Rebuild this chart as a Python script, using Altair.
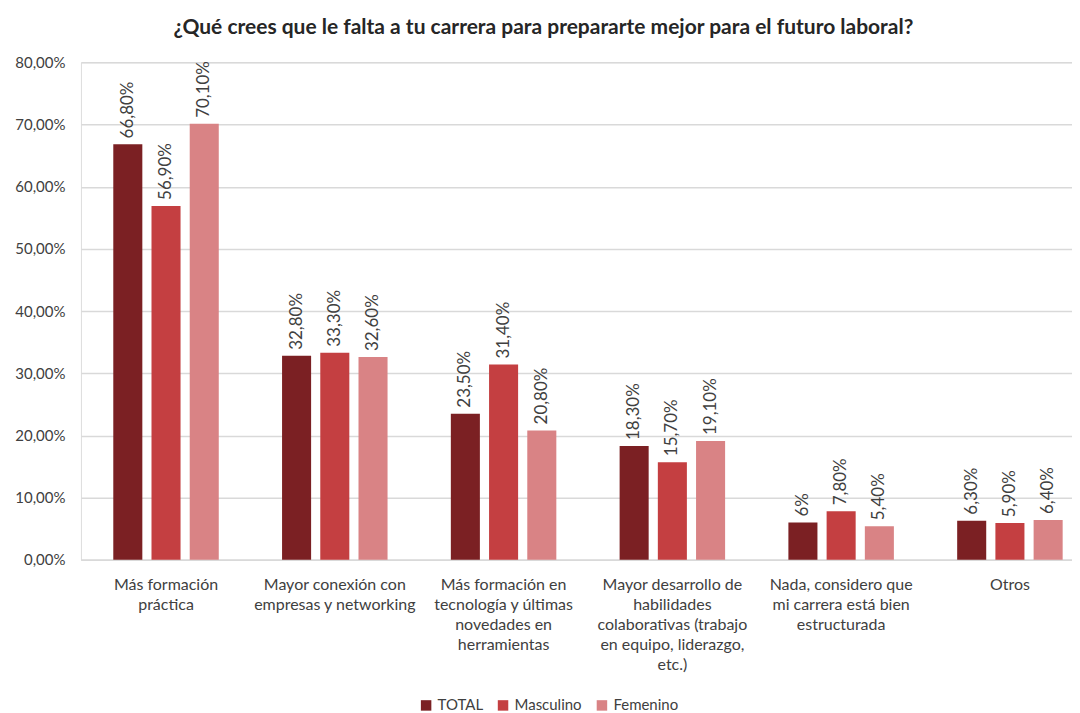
import altair as alt
import pandas as pd

categories = [
    "Más formación|práctica",
    "Mayor conexión con|empresas y networking",
    "Más formación en|tecnología y últimas|novedades en|herramientas",
    "Mayor desarrollo de|habilidades|colaborativas (trabajo|en equipo, liderazgo,|etc.)",
    "Nada, considero que|mi carrera está bien|estructurada",
    "Otros",
]
series = ["TOTAL", "Masculino", "Femenino"]
total = [66.8, 32.8, 23.5, 18.3, 6.0, 6.3]
masculino = [56.9, 33.3, 31.4, 15.7, 7.8, 5.9]
femenino = [70.1, 32.6, 20.8, 19.1, 5.4, 6.4]
label_total = ["66,80%", "32,80%", "23,50%", "18,30%", "6%", "6,30%"]
label_masc = ["56,90%", "33,30%", "31,40%", "15,70%", "7,80%", "5,90%"]
label_fem = ["70,10%", "32,60%", "20,80%", "19,10%", "5,40%", "6,40%"]
colors = ["#7B2023", "#C43F41", "#D98385"]

rows = []
for s, vals, labs in zip(series, [total, masculino, femenino], [label_total, label_masc, label_fem]):
    for c, v, l in zip(categories, vals, labs):
        rows.append({"cat": c, "serie": s, "value": v / 100.0, "label": l})
df = pd.DataFrame(rows)

FONT = "Lato"

x = alt.X(
    "cat:N",
    sort=categories,
    title=None,
    scale=alt.Scale(paddingInner=0.375, paddingOuter=0.1235, align=0.776),
    axis=alt.Axis(
        labelExpr="split(datum.label, '|')",
        labelAngle=0,
        labelAlign="center",
        labelBaseline="top",
        labelFont=FONT,
        labelFontSize=16,
        labelColor="#404040",
        labelLineHeight=20,
        labelPadding=17,
        ticks=False,
        domain=True,
        domainColor="#D9D9D9",
        domainWidth=1.5,
        grid=False,
        labelLimit=300,
    ),
)
xoff = alt.XOffset("serie:N", sort=series, scale=alt.Scale(paddingInner=0.24, paddingOuter=0))
y = alt.Y(
    "value:Q",
    title=None,
    scale=alt.Scale(domain=[0, 0.8]),
    axis=alt.Axis(
        values=[0, 0.1, 0.2, 0.3, 0.4, 0.5, 0.6, 0.7, 0.8],
        labelExpr="replace(format(datum.value, '.2%'), '.', ',')",
        labelFont=FONT,
        labelFontSize=15,
        labelColor="#404040",
        labelPadding=16,
        ticks=False,
        domain=False,
        grid=True,
        gridColor="#D9D9D9",
        gridWidth=1.5,
    ),
)
color = alt.Color(
    "serie:N",
    sort=series,
    scale=alt.Scale(domain=series, range=colors),
    legend=alt.Legend(
        title=None,
        orient="none",
        direction="horizontal",
        legendX=338,
        legendY=636,
        symbolType="square",
        symbolSize=110,
        symbolStrokeWidth=0,
        labelFont=FONT,
        labelFontSize=15,
        labelColor="#404040",
        labelOffset=4,
        columnPadding=12,
    ),
)

bars = alt.Chart(df).mark_bar().encode(x=x, xOffset=xoff, y=y, color=color)
text = alt.Chart(df).mark_text(
    angle=270, align="left", baseline="middle", dx=6, font=FONT, fontSize=17, color="#404040"
).encode(x=x, xOffset=xoff, y=y, text="label:N")

chart = (
    alt.layer(bars, text)
    .properties(
        width=992,
        height=498,
        padding={"left": 6, "top": 9, "right": 0, "bottom": 0},
        title=alt.Title(
            "¿Qué crees que le falta a tu carrera para prepararte mejor para el futuro laboral?",
            font=FONT,
            fontSize=21,
            fontWeight="bold",
            color="#262626",
            anchor="middle",
            frame="bounds",
            offset=20,
            dy=3,
        ),
    )
    .configure_view(stroke=None)
    .configure(background="white")
)

chart.save("out.html", embed_options={"renderer": "svg", "actions": False})
